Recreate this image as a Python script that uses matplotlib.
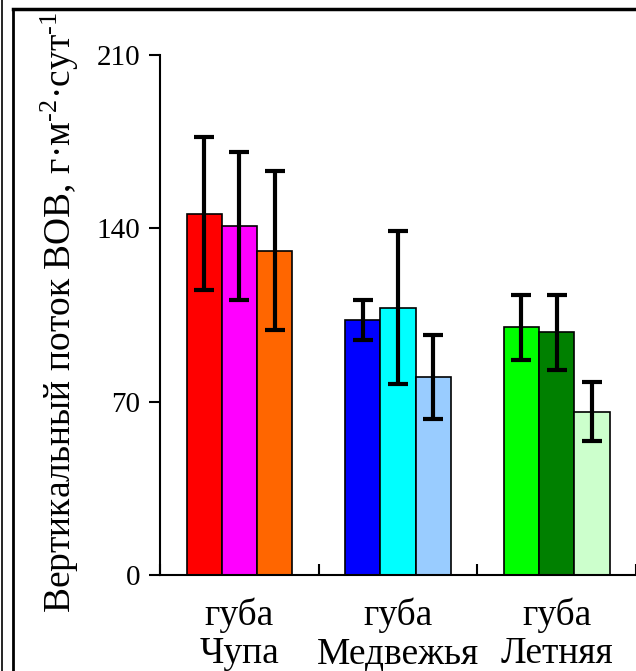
import matplotlib
matplotlib.use("Agg")
import matplotlib.pyplot as plt
from matplotlib.lines import Line2D
import numpy as np

plt.rcParams['font.family'] = ['Liberation Serif', 'DejaVu Serif']
plt.rcParams['mathtext.fontset'] = 'custom'
plt.rcParams['mathtext.rm'] = 'Liberation Serif'
plt.rcParams['mathtext.it'] = 'Liberation Serif'

groups = ['губа\nЧупа', 'губа\nМедвежья', 'губа\nЛетняя']
values = [[146, 141, 131],
          [103, 108, 80],
          [100, 98, 66]]
errors = [[31, 30, 32],
          [8, 31, 17],
          [13, 15, 12]]
colors = [['#FF0000', '#FF00FF', '#FF6600'],
          ['#0000FF', '#00FFFF', '#99CCFF'],
          ['#00FF00', '#008000', '#CCFFCC']]
yticks = [0, 70, 140, 210]
ylabel = 'Вертикальный поток ВОВ, г·м$^{\\text{-}2}$·сут$^{\\text{-}1}$'

fig = plt.figure(figsize=(6.36, 6.71), dpi=100)
ax = fig.add_axes([0.2516, 0.143, 0.7484, 0.775])

bw = 0.222
for gi in range(len(groups)):
    for si in range(3):
        x = gi + (si - 1) * bw
        ax.bar(x, values[gi][si], width=bw, color=colors[gi][si],
               edgecolor='black', linewidth=1.2, zorder=2)
        ax.errorbar(x, values[gi][si], yerr=errors[gi][si], fmt='none',
                    ecolor='black', elinewidth=3, capsize=7, capthick=3, zorder=3)

ax.set_xlim(-0.5, 2.5)
ax.set_ylim(0, 210)
ax.set_yticks(yticks)
ax.set_yticklabels([str(t) for t in yticks], fontsize=21)
ax.tick_params(axis='y', direction='out', length=8, width=1.5, pad=6)

ax.set_xticks([-0.5, 0.5, 1.5, 2.5])
ax.set_xticklabels([])
ax.tick_params(axis='x', which='major', direction='in', length=8, width=1.5)
ax.set_xticks([0, 1, 2], minor=True)
ax.set_xticklabels(groups, minor=True, fontsize=27, linespacing=1.15)
ax.tick_params(axis='x', which='minor', length=0, pad=16)

for s in ['top', 'right']:
    ax.spines[s].set_visible(False)
ax.spines['left'].set_linewidth(1.5)
ax.spines['bottom'].set_linewidth(1.5)

ax.set_ylabel(ylabel, fontsize=27)
ax.yaxis.set_label_coords(-0.165, 0.505)

# figure frame
W, H = 636, 671
fig.add_artist(Line2D([2/W, 2/W], [0, 1], color='black', lw=1.2, transform=fig.transFigure))
fig.add_artist(Line2D([13/W, 13/W], [0, 1 - 9/H], color='black', lw=2, transform=fig.transFigure))
fig.add_artist(Line2D([13/W, 1], [1 - 9/H, 1 - 9/H], color='black', lw=2.5, transform=fig.transFigure))

fig.savefig('out.png', dpi=100)
